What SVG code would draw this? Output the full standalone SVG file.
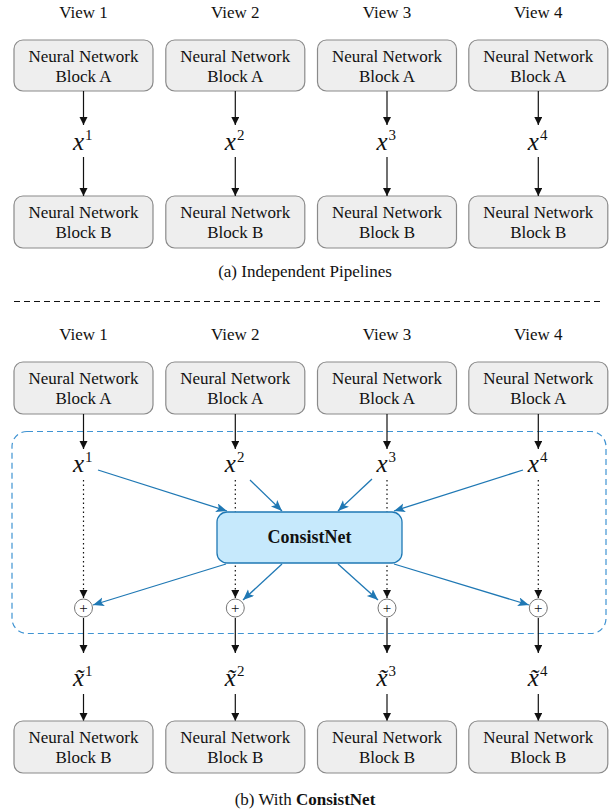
<svg xmlns="http://www.w3.org/2000/svg" width="609" height="811" viewBox="0 0 609 811">
<style>
text{font-family:"Liberation Serif","Times New Roman",serif;fill:#111;}
.lbl{font-size:17px;text-anchor:middle;}
.box{fill:#eeeeee;stroke:#8a8a8a;stroke-width:1.2;}
.math{font-size:25px;font-style:italic;}
.sup{font-size:15px;font-style:normal;}
.arr{stroke:#111;stroke-width:1.2;fill:none;marker-end:url(#ah);}
.dot{stroke:#111;stroke-width:1.2;fill:none;stroke-dasharray:1.5 3;marker-end:url(#ah);}
.barr{stroke:#1f78b4;stroke-width:1.3;fill:none;marker-end:url(#bh);}
.plus{fill:#fff;stroke:#777;stroke-width:1;}
.pt{font-size:15px;text-anchor:middle;fill:#111;}
</style>
<defs>
<marker id="ah" markerUnits="userSpaceOnUse" markerWidth="10" markerHeight="10" refX="8" refY="4" orient="auto">
<path d="M0,0 L8,4 L0,8 Z" fill="#111"/>
</marker>
<marker id="bh" markerUnits="userSpaceOnUse" markerWidth="14" markerHeight="12" refX="11" refY="4.5" orient="auto">
<path d="M0,0 L11,4.5 L0,9 L2.5,4.5 Z" fill="#1f78b4"/>
</marker>
</defs>

<!-- Part (a) -->
<g id="a-views">
<text class="lbl" x="83.5" y="18">View 1</text>
<text class="lbl" x="235.3" y="18">View 2</text>
<text class="lbl" x="387" y="18">View 3</text>
<text class="lbl" x="538.3" y="18">View 4</text>
</g>
<g id="a-blockA-1"><rect class="box" x="14" y="40" width="139" height="51" rx="9"/><text class="lbl" x="83.5" y="62">Neural Network</text><text class="lbl" x="83.5" y="82">Block A</text></g>
<g id="a-blockA-2"><rect class="box" x="165.8" y="40" width="139" height="51" rx="9"/><text class="lbl" x="235.3" y="62">Neural Network</text><text class="lbl" x="235.3" y="82">Block A</text></g>
<g id="a-blockA-3"><rect class="box" x="317.5" y="40" width="139" height="51" rx="9"/><text class="lbl" x="387" y="62">Neural Network</text><text class="lbl" x="387" y="82">Block A</text></g>
<g id="a-blockA-4"><rect class="box" x="468.8" y="40" width="139" height="51" rx="9"/><text class="lbl" x="538.3" y="62">Neural Network</text><text class="lbl" x="538.3" y="82">Block A</text></g>

<g id="a-x1"><text class="math" x="73" y="150">x<tspan class="sup" dx="1" dy="-10">1</tspan></text></g>
<g id="a-x2"><text class="math" x="224.8" y="150">x<tspan class="sup" dx="1" dy="-10">2</tspan></text></g>
<g id="a-x3"><text class="math" x="376.5" y="150">x<tspan class="sup" dx="1" dy="-10">3</tspan></text></g>
<g id="a-x4"><text class="math" x="527.8" y="150">x<tspan class="sup" dx="1" dy="-10">4</tspan></text></g>

<g id="a-blockB-1"><rect class="box" x="14" y="196" width="139" height="52" rx="9"/><text class="lbl" x="83.5" y="218">Neural Network</text><text class="lbl" x="83.5" y="238">Block B</text></g>
<g id="a-blockB-2"><rect class="box" x="165.8" y="196" width="139" height="52" rx="9"/><text class="lbl" x="235.3" y="218">Neural Network</text><text class="lbl" x="235.3" y="238">Block B</text></g>
<g id="a-blockB-3"><rect class="box" x="317.5" y="196" width="139" height="52" rx="9"/><text class="lbl" x="387" y="218">Neural Network</text><text class="lbl" x="387" y="238">Block B</text></g>
<g id="a-blockB-4"><rect class="box" x="468.8" y="196" width="139" height="52" rx="9"/><text class="lbl" x="538.3" y="218">Neural Network</text><text class="lbl" x="538.3" y="238">Block B</text></g>

<g id="a-connectors">
<line class="arr" x1="83.5" y1="91" x2="83.5" y2="125"/>
<line class="arr" x1="235.3" y1="91" x2="235.3" y2="125"/>
<line class="arr" x1="387" y1="91" x2="387" y2="125"/>
<line class="arr" x1="538.3" y1="91" x2="538.3" y2="125"/>
<line class="arr" x1="83.5" y1="157" x2="83.5" y2="196"/>
<line class="arr" x1="235.3" y1="157" x2="235.3" y2="196"/>
<line class="arr" x1="387" y1="157" x2="387" y2="196"/>
<line class="arr" x1="538.3" y1="157" x2="538.3" y2="196"/>
</g>
<text class="lbl" x="305" y="277">(a) Independent Pipelines</text>

<line x1="14" y1="301.5" x2="604" y2="301.5" stroke="#111" stroke-width="1" stroke-dasharray="6 4"/>

<!-- Part (b) -->
<g id="b-views">
<text class="lbl" x="83.5" y="340">View 1</text>
<text class="lbl" x="235.3" y="340">View 2</text>
<text class="lbl" x="387" y="340">View 3</text>
<text class="lbl" x="538.3" y="340">View 4</text>
</g>
<g id="b-blockA-1"><rect class="box" x="14" y="362" width="139" height="52" rx="9"/><text class="lbl" x="83.5" y="384">Neural Network</text><text class="lbl" x="83.5" y="404">Block A</text></g>
<g id="b-blockA-2"><rect class="box" x="165.8" y="362" width="139" height="52" rx="9"/><text class="lbl" x="235.3" y="384">Neural Network</text><text class="lbl" x="235.3" y="404">Block A</text></g>
<g id="b-blockA-3"><rect class="box" x="317.5" y="362" width="139" height="52" rx="9"/><text class="lbl" x="387" y="384">Neural Network</text><text class="lbl" x="387" y="404">Block A</text></g>
<g id="b-blockA-4"><rect class="box" x="468.8" y="362" width="139" height="52" rx="9"/><text class="lbl" x="538.3" y="384">Neural Network</text><text class="lbl" x="538.3" y="404">Block A</text></g>

<rect id="consist-region" x="12" y="431.5" width="594" height="202" rx="15" fill="none" stroke="#3f93d2" stroke-width="1.2" stroke-dasharray="6 4"/>

<g id="b-x1"><text class="math" x="73" y="472">x<tspan class="sup" dx="1" dy="-10">1</tspan></text></g>
<g id="b-x2"><text class="math" x="224.8" y="472">x<tspan class="sup" dx="1" dy="-10">2</tspan></text></g>
<g id="b-x3"><text class="math" x="376.5" y="472">x<tspan class="sup" dx="1" dy="-10">3</tspan></text></g>
<g id="b-x4"><text class="math" x="527.8" y="472">x<tspan class="sup" dx="1" dy="-10">4</tspan></text></g>

<g id="b-connectors">
<line class="arr" x1="83.5" y1="414" x2="83.5" y2="449"/>
<line class="arr" x1="235.3" y1="414" x2="235.3" y2="449"/>
<line class="arr" x1="387" y1="414" x2="387" y2="449"/>
<line class="arr" x1="538.3" y1="414" x2="538.3" y2="449"/>
<line class="dot" x1="83.5" y1="480" x2="83.5" y2="598"/>
<line class="dot" x1="235.3" y1="480" x2="235.3" y2="598"/>
<line class="dot" x1="387" y1="480" x2="387" y2="598"/>
<line class="dot" x1="538.3" y1="480" x2="538.3" y2="598"/>
<line class="barr" x1="98" y1="470" x2="227" y2="511"/>
<line class="barr" x1="250" y1="480" x2="282" y2="511"/>
<line class="barr" x1="372" y1="479" x2="338" y2="511"/>
<line class="barr" x1="523" y1="470" x2="394" y2="511"/>
<line class="barr" x1="226" y1="564" x2="93" y2="605"/>
<line class="barr" x1="282" y1="564" x2="243" y2="600"/>
<line class="barr" x1="338" y1="564" x2="378" y2="600"/>
<line class="barr" x1="394" y1="564" x2="529" y2="605"/>
<line class="arr" x1="83.5" y1="618" x2="83.5" y2="653"/>
<line class="arr" x1="235.3" y1="618" x2="235.3" y2="653"/>
<line class="arr" x1="387" y1="618" x2="387" y2="653"/>
<line class="arr" x1="538.3" y1="618" x2="538.3" y2="653"/>
<line class="arr" x1="83.5" y1="694" x2="83.5" y2="721"/>
<line class="arr" x1="235.3" y1="694" x2="235.3" y2="721"/>
<line class="arr" x1="387" y1="694" x2="387" y2="721"/>
<line class="arr" x1="538.3" y1="694" x2="538.3" y2="721"/>
</g>

<g id="consistnet">
<rect x="217" y="512" width="185" height="51" rx="10" fill="#c6e9fc" stroke="#1f78b4" stroke-width="1.3"/>
<text x="309.5" y="543" font-size="18" font-weight="bold" text-anchor="middle">ConsistNet</text>
</g>

<g id="sum-1"><circle class="plus" cx="83.5" cy="608" r="9"/><text class="pt" x="83.5" y="613">+</text></g>
<g id="sum-2"><circle class="plus" cx="235.3" cy="608" r="9"/><text class="pt" x="235.3" y="613">+</text></g>
<g id="sum-3"><circle class="plus" cx="387" cy="608" r="9"/><text class="pt" x="387" y="613">+</text></g>
<g id="sum-4"><circle class="plus" cx="538.3" cy="608" r="9"/><text class="pt" x="538.3" y="613">+</text></g>

<g id="b-xt1"><text class="math" x="73" y="686">x̃<tspan class="sup" dx="1" dy="-10">1</tspan></text></g>
<g id="b-xt2"><text class="math" x="224.8" y="686">x̃<tspan class="sup" dx="1" dy="-10">2</tspan></text></g>
<g id="b-xt3"><text class="math" x="376.5" y="686">x̃<tspan class="sup" dx="1" dy="-10">3</tspan></text></g>
<g id="b-xt4"><text class="math" x="527.8" y="686">x̃<tspan class="sup" dx="1" dy="-10">4</tspan></text></g>

<g id="b-blockB-1"><rect class="box" x="14" y="721" width="139" height="52" rx="9"/><text class="lbl" x="83.5" y="743">Neural Network</text><text class="lbl" x="83.5" y="763">Block B</text></g>
<g id="b-blockB-2"><rect class="box" x="165.8" y="721" width="139" height="52" rx="9"/><text class="lbl" x="235.3" y="743">Neural Network</text><text class="lbl" x="235.3" y="763">Block B</text></g>
<g id="b-blockB-3"><rect class="box" x="317.5" y="721" width="139" height="52" rx="9"/><text class="lbl" x="387" y="743">Neural Network</text><text class="lbl" x="387" y="763">Block B</text></g>
<g id="b-blockB-4"><rect class="box" x="468.8" y="721" width="139" height="52" rx="9"/><text class="lbl" x="538.3" y="743">Neural Network</text><text class="lbl" x="538.3" y="763">Block B</text></g>

<text class="lbl" x="305" y="805">(b) With <tspan font-weight="bold">ConsistNet</tspan></text>
</svg>
